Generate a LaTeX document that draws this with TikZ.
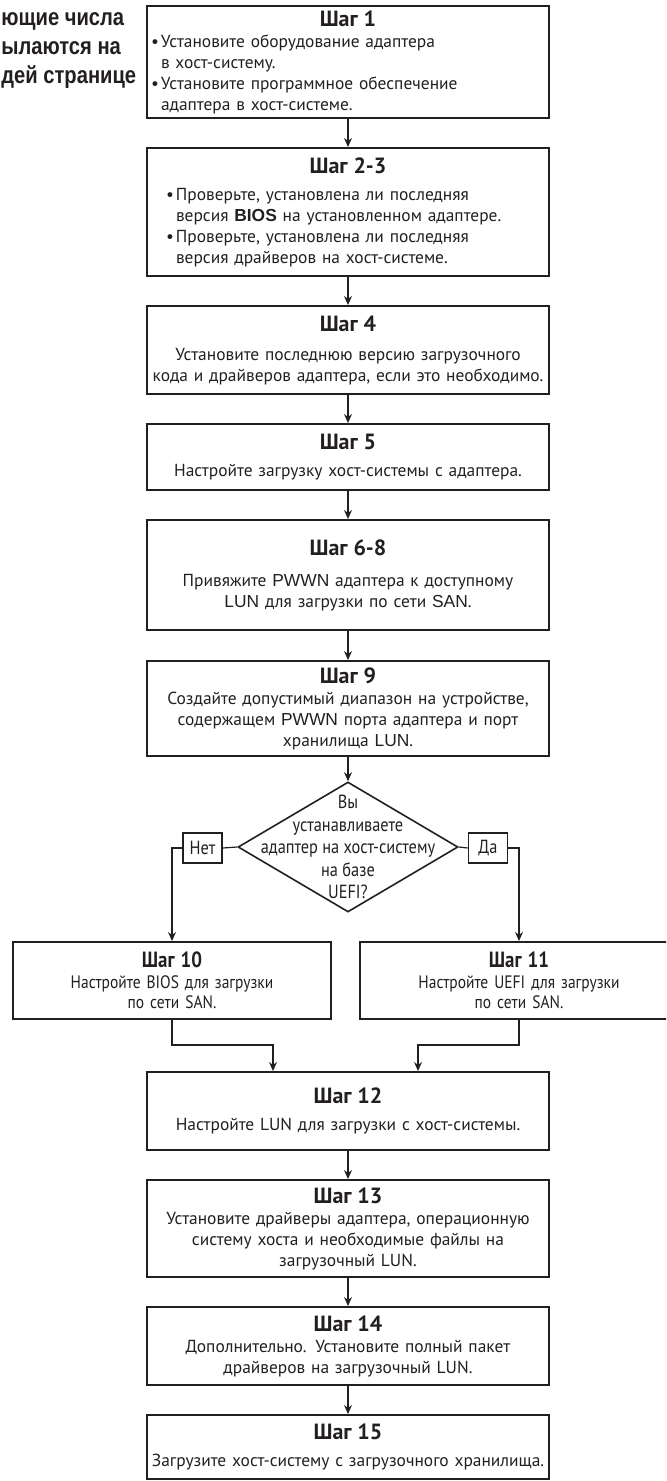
\documentclass[tikz,border=0pt]{standalone}
\usepackage{fontspec}
\setmainfont{PT Sans}
\newfontfamily\latfont{Liberation Sans}
\newfontfamily\narrowfont[FakeStretch=0.86]{PT Sans}
\newfontfamily\sidefont[FakeStretch=0.84]{Liberation Sans}
\usetikzlibrary{arrows.meta, shapes.geometric}
\definecolor{ink}{HTML}{231F20}
\newcommand\shag[1]{{\fontsize{11}{13}\selectfont\bfseries #1}}
\newcommand\lat[1]{{\latfont #1}}
\newcommand\bul{\makebox[5pt][l]{•}}
\newcommand\cont{\hspace*{5pt}}
\begin{document}
\begin{tikzpicture}[
        x=0.5pt, y=-0.5pt,
        stepbox/.style={draw=ink, line width=1pt, text=ink, text width=200pt, inner xsep=0.5pt, inner ysep=0pt, align=center, font=\fontsize{8.7}{10.5}\selectfont},
        listbox/.style={stepbox, align=left},
        sidebox/.style={stepbox, text width=158pt, font=\narrowfont\fontsize{9}{10.2}\selectfont},
        choice/.style={diamond, draw=ink, line width=0.8pt, minimum width=110pt, minimum height=65pt, inner sep=0pt},
        answer/.style={draw=ink, line width=0.8pt, text=ink, minimum width=19.5pt, minimum height=15pt, inner sep=0pt, font=\narrowfont\fontsize{9.5}{11}\selectfont},
        notetext/.style={anchor=base west, inner sep=0pt, text=ink, font=\sidefont\bfseries\fontsize{12}{14}\selectfont},
        flow/.style={draw=ink, line width=0.6pt, -{Stealth[length=4.5pt, width=4pt]}},
        link/.style={draw=ink, line width=0.6pt}
    ]

    % Frame
    \useasboundingbox (0,0) rectangle (666,1481);
    \clip (0,0) rectangle (666,1481);

    % Note on the left
    \node[notetext] (note1) at (1,26) {ющие числа};
    \node[notetext] (note2) at (1,55) {ылаются на};
    \node[notetext] (note3) at (1,84) {дей странице};

    % Main column
    \node[listbox, minimum height=56pt] (s1) at (348,62) {\makebox[\hsize]{\shag{Шаг 1}}\\
        \hspace*{1.5pt}\bul Установите оборудование адаптера\\
        \hspace*{1.5pt}\cont в хост-систему.\\
        \hspace*{1.5pt}\bul Установите программное обеспечение\\
        \hspace*{1.5pt}\cont адаптера в хост-системе.};
    \node[listbox, minimum height=64pt] (s23) at (348,212) {\makebox[\hsize]{\shag{Шаг 2-3}}\\[3pt]
        \hspace*{9pt}\bul Проверьте, установлена ли последняя\\
        \hspace*{9pt}\cont версия \lat{\bfseries BIOS} на установленном адаптере.\\
        \hspace*{9pt}\bul Проверьте, установлена ли последняя\\
        \hspace*{9pt}\cont версия драйверов на хост-системе.};
    \node[stepbox, minimum height=44pt] (s4) at (348,350) {\shag{Шаг 4}\\[4pt]
        Установите последнюю версию загрузочного\\
        кода и драйверов адаптера, если это необходимо.};
    \node[stepbox, minimum height=33pt] (s5) at (348,457) {\shag{Шаг 5}\\[3pt]
        Настройте загрузку хост-системы с адаптера.};
    \node[stepbox, minimum height=55pt] (s68) at (348,575) {\shag{Шаг 6-8}\\[5pt]
        Привяжите \lat{PWWN} адаптера к доступному\\
        \lat{LUN} для загрузки по сети \lat{SAN}.};
    \node[stepbox, minimum height=47.5pt] (s9) at (348,708.5) {\shag{Шаг 9}\\
        Создайте допустимый диапазон на устройстве,\\
        содержащем \lat{PWWN} порта адаптера и порт\\
        хранилища \lat{LUN}.};

    % Decision
    \node[choice] (q) at (348,847) {};
    \node[align=center, inner sep=0pt, text=ink, font=\narrowfont\fontsize{9.5}{11.2}\selectfont] (qtext) at (q) {Вы\\устанавливаете\\адаптер на хост-систему\\на базе\\UEFI?};
    \node[answer] (no) at (202.5,848) {Нет};
    \node[answer] (yes) at (488,848) {Да};

    % Branches
    \node[sidebox, minimum height=38.5pt] (s10) at (172,980.5) {\shag{Шаг 10}\\
        Настройте BIOS для загрузки\\
        по сети SAN.};
    \node[sidebox, minimum height=38.5pt] (s11) at (519,980.5) {\shag{Шаг 11}\\
        Настройте UEFI для загрузки\\
        по сети SAN.};

    % Lower column
    \node[stepbox, minimum height=39pt] (s12) at (348,1111) {\shag{Шаг 12}\\[3pt]
        Настройте LUN для загрузки с хост-системы.};
    \node[stepbox, minimum height=48.5pt] (s13) at (348,1228.5) {\shag{Шаг 13}\\
        Установите драйверы адаптера, операционную\\
        систему хоста и необходимые файлы на\\
        загрузочный LUN.};
    \node[stepbox, minimum height=39pt] (s14) at (348,1346) {\shag{Шаг 14}\\
        Дополнительно. Установите полный пакет\\
        драйверов на загрузочный LUN.};
    \node[stepbox, minimum height=32pt] (s15) at (348,1447) {\shag{Шаг 15}\\[3pt]
        Загрузите хост-систему с загрузочного хранилища.};

    % Arrows
    \draw[flow] (s1) -- (s23);
    \draw[flow] (s23) -- (s4);
    \draw[flow] (s4) -- (s5);
    \draw[flow] (s5) -- (s68);
    \draw[flow] (s68) -- (s9);
    \draw[flow] (s9) -- (q);
    \draw[link] (q.west) -- (no.east);
    \draw[flow] (no.west) -| (s10.north);
    \draw[link] (q.east) -- (yes.west);
    \draw[flow] (yes.east) -| (s11.north);
    \coordinate (m10) at (273,1045);
    \coordinate (m11) at (418,1045);
    \draw[flow] (s10.south) |- (m10) -- (m10 |- s12.north);
    \draw[flow] (s11.south) |- (m11) -- (m11 |- s12.north);
    \draw[flow] (s12) -- (s13);
    \draw[flow] (s13) -- (s14);
    \draw[flow] (s14) -- (s15);

\end{tikzpicture}
\end{document}
